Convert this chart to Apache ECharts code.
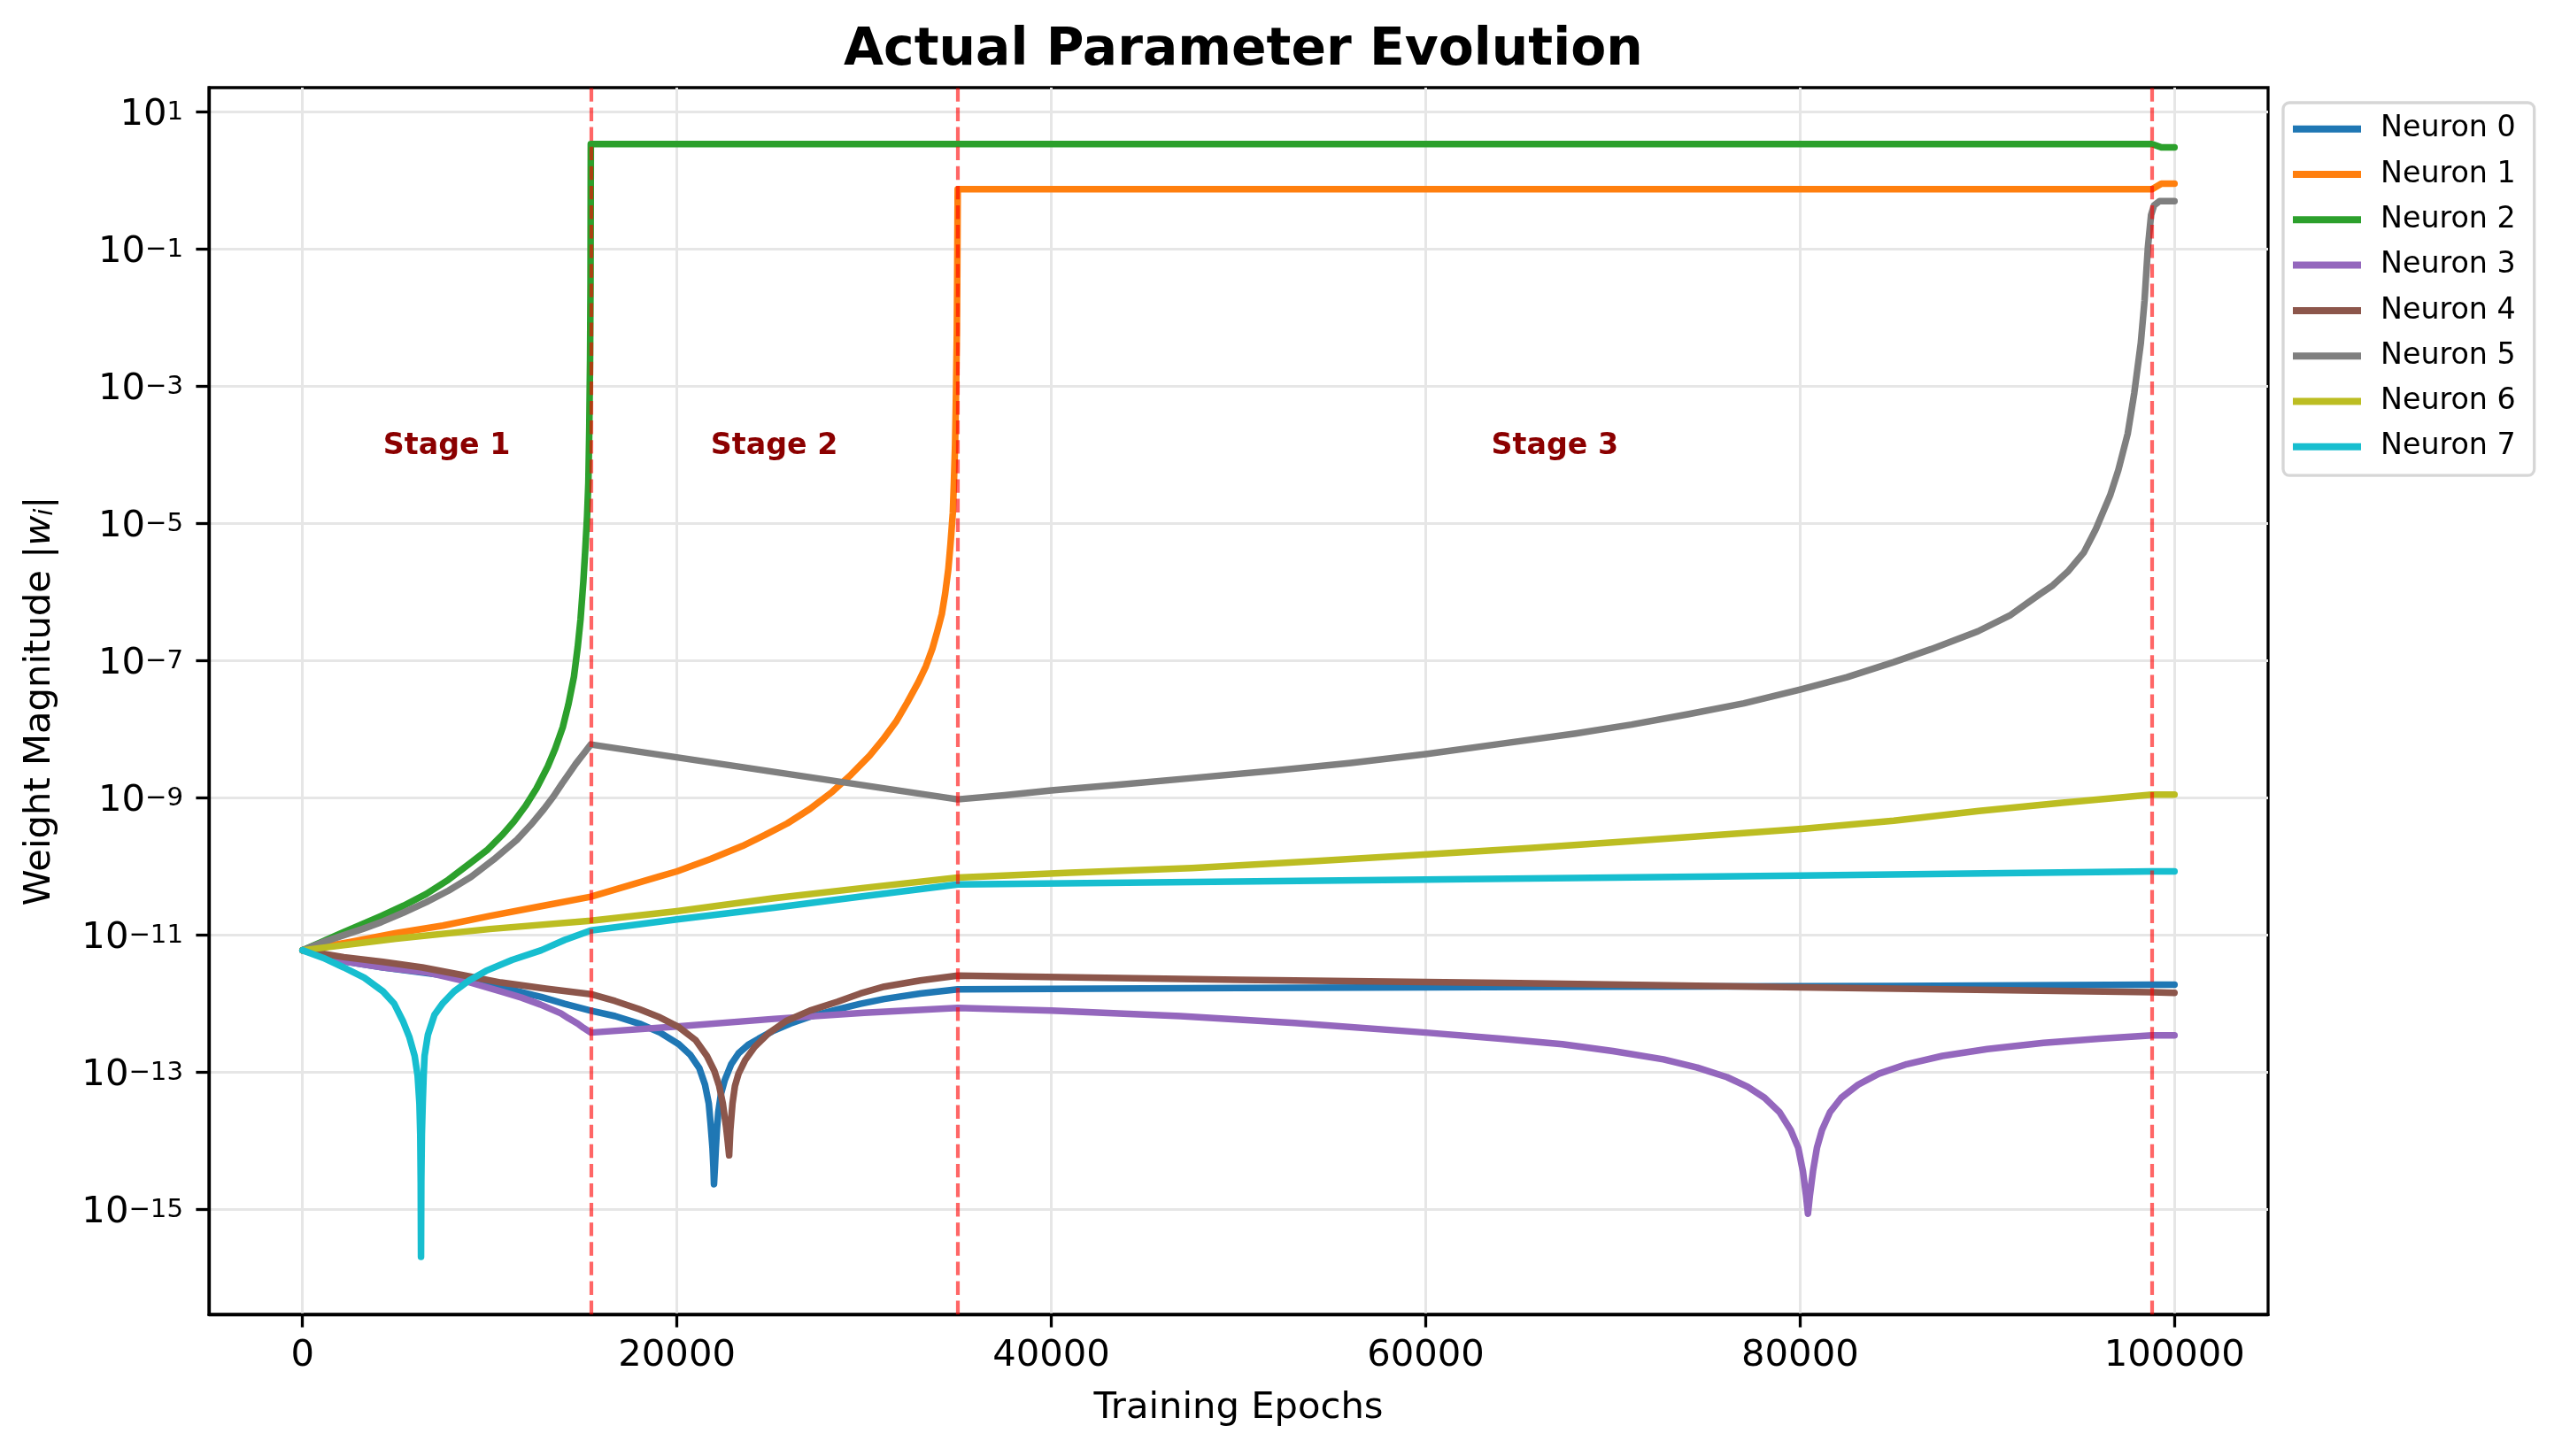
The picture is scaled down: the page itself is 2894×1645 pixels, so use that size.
<!DOCTYPE html>
<html>
<head>
<meta charset="utf-8">
<title>Actual Parameter Evolution</title>
<script src="https://cdn.jsdelivr.net/npm/echarts@6/dist/echarts.min.js"></script>
<style>
  html, body { margin: 0; padding: 0; background: #fff; }
  #echartsShow { width: 2894px; height: 1645px; }
</style>
</head>
<body>
<div id="echartsShow"></div>
<script>
// [epoch, log10 |w|]
var neuron0 = [[0,-11.22],[2200,-11.38],[4300,-11.47],[6600,-11.55],[8900,-11.63],[10600,-11.76],[12750,-11.90],[14000,-12.00],[15400,-12.10],
  [16700,-12.18],[18000,-12.29],[19100,-12.42],[20100,-12.59],[20700,-12.74],[21200,-12.94],[21500,-13.18],[21700,-13.45],[21800,-13.75],
  [21900,-14.10],[21950,-14.38],[21980,-14.63],[22030,-14.38],[22080,-14.10],[22140,-13.82],[22210,-13.58],[22350,-13.32],[22560,-13.11],
  [22900,-12.88],[23300,-12.72],[23800,-12.60],[24360,-12.51],[25100,-12.40],[26050,-12.29],[27200,-12.18],[28580,-12.08],[29800,-12.00],
  [31080,-11.93],[33000,-11.85],[35000,-11.79],
  [50000,-11.77],[70000,-11.75],[85000,-11.74],[98800,-11.72],[100000,-11.72]];
var neuron1 = [[0,-11.22],[2500,-11.10],[5000,-10.97],[7500,-10.86],[10000,-10.72],[12700,-10.58],[15400,-10.44],[17000,-10.31],[18000,-10.23],
  [19000,-10.15],[20000,-10.07],[21800,-9.89],[23500,-9.70],[24700,-9.54],[25900,-9.37],[27100,-9.16],[28300,-8.91],[29300,-8.66],
  [30300,-8.38],[31000,-8.15],[31700,-7.89],[32300,-7.61],[32900,-7.31],[33300,-7.08],[33650,-6.82],[33900,-6.58],[34150,-6.32],
  [34330,-6.02],[34500,-5.66],[34620,-5.28],[34740,-4.84],[34800,-4.38],[34860,-3.85],[34910,-3.10],[34955,-2.21],[34975,-1.40],
  [35000,-0.125],[98800,-0.125],[99300,-0.043],[100000,-0.043]];
var neuron2 = [[0,-11.22],[1000,-11.10],[2000,-10.98],[3100,-10.85],[4200,-10.72],[5400,-10.57],[6600,-10.40],[7800,-10.19],[9000,-9.94],
  [9900,-9.75],[10700,-9.53],[11300,-9.34],[11900,-9.12],[12500,-8.86],[13100,-8.54],[13500,-8.28],[13900,-7.97],[14200,-7.64],
  [14500,-7.23],[14700,-6.80],[14850,-6.40],[15000,-5.85],[15100,-5.40],[15200,-4.90],[15270,-4.40],[15320,-3.60],[15360,-2.60],
  [15385,-1.50],[15400,0.534],[98800,0.534],[99300,0.484],[100000,0.484]];
var neuron3 = [[0,-11.22],[2200,-11.38],[4300,-11.47],[6600,-11.54],[8700,-11.67],[10600,-11.82],[11700,-11.91],[12700,-12.01],[13800,-12.14],
  [14200,-12.21],[14700,-12.29],[15000,-12.35],[15400,-12.42],
  [20000,-12.33],[25200,-12.22],[30000,-12.13],[35000,-12.06],
  [40000,-12.10],[46900,-12.18],[53000,-12.28],[60000,-12.42],[64000,-12.51],[67300,-12.59],[70000,-12.69],[72700,-12.81],[74500,-12.93],
  [76100,-13.07],[77200,-13.21],[78100,-13.37],[78900,-13.58],[79500,-13.84],[79900,-14.10],[80150,-14.44],[80320,-14.80],[80420,-15.06],
  [80520,-14.80],[80690,-14.44],[80900,-14.10],[81170,-13.84],[81600,-13.58],[82200,-13.37],[83100,-13.18],[84200,-13.02],[85700,-12.88],
  [87600,-12.76],[90000,-12.66],[93000,-12.57],[96000,-12.51],[98800,-12.46],[100000,-12.46]];
var neuron4 = [[0,-11.22],[2200,-11.32],[4300,-11.39],[6400,-11.47],[8500,-11.58],[10600,-11.69],[13000,-11.78],[15400,-11.86],
  [16700,-11.96],[18000,-12.08],[19100,-12.20],[20100,-12.34],[21000,-12.53],[21600,-12.76],[22000,-12.98],[22250,-13.19],[22450,-13.45],
  [22630,-13.80],[22720,-14.02],[22790,-14.21],[22850,-13.85],[22970,-13.45],[23100,-13.20],[23290,-13.02],[23650,-12.82],[24150,-12.63],
  [24900,-12.43],[25840,-12.25],[27100,-12.10],[28580,-11.97],[29800,-11.85],[31080,-11.75],[33000,-11.66],[35000,-11.59],
  [50000,-11.65],[65000,-11.70],[80000,-11.76],[98800,-11.83],[100000,-11.84]];
var neuron5 = [[0,-11.22],[1000,-11.11],[2200,-11.00],[3200,-10.91],[4200,-10.81],[5400,-10.67],[6600,-10.52],[7800,-10.35],[9000,-10.15],
  [10200,-9.90],[11450,-9.61],[12200,-9.39],[12900,-9.16],[13400,-8.98],[13860,-8.79],[14250,-8.64],[14600,-8.50],[15000,-8.36],[15400,-8.22],
  [25200,-8.62],[35000,-9.02],
  [37500,-8.96],[40000,-8.89],[43500,-8.81],[47500,-8.71],[52000,-8.60],[56000,-8.49],[60000,-8.36],[64000,-8.21],[68000,-8.06],
  [71000,-7.93],[74000,-7.78],[77000,-7.62],[80000,-7.42],[82500,-7.24],[85000,-7.02],[87000,-6.83],[89500,-6.57],[91200,-6.34],
  [92800,-6.03],[93500,-5.90],[94300,-5.70],[95160,-5.42],[95800,-5.08],[96560,-4.59],[97000,-4.22],[97500,-3.69],[97850,-3.10],
  [98200,-2.37],[98400,-1.75],[98580,-0.97],[98750,-0.50],[98910,-0.36],[99200,-0.30],[100000,-0.30]];
var neuron6 = [[0,-11.22],[5000,-11.05],[10000,-10.91],[15400,-10.79],[20000,-10.65],[25200,-10.46],[30000,-10.31],[35000,-10.16],
  [41000,-10.09],[47500,-10.02],[54000,-9.92],[60100,-9.82],[65500,-9.73],[70850,-9.63],[75500,-9.54],[80100,-9.45],[85000,-9.33],
  [89550,-9.19],[94000,-9.07],[98800,-8.95],[100000,-8.95]];
var neuron7 = [[0,-11.22],[1100,-11.33],[2200,-11.47],[3300,-11.62],[4300,-11.82],[4900,-12.00],[5360,-12.25],[5700,-12.48],[5990,-12.76],
  [6150,-13.05],[6245,-13.45],[6290,-13.90],[6315,-14.60],[6330,-15.69],[6345,-14.60],[6375,-13.90],[6420,-13.45],[6470,-13.05],
  [6520,-12.76],[6700,-12.45],[7050,-12.16],[7500,-11.99],[8100,-11.82],[8900,-11.66],[9800,-11.52],[11200,-11.36],[12750,-11.22],
  [14000,-11.07],[15400,-10.93],
  [20000,-10.77],[25200,-10.60],[30000,-10.43],[35000,-10.26],
  [60000,-10.19],[80000,-10.13],[98800,-10.07],[100000,-10.07]];

var neuronNames = ['Neuron 0','Neuron 1','Neuron 2','Neuron 3','Neuron 4','Neuron 5','Neuron 6','Neuron 7'];
var neuronColors = ['#1f77b4','#ff7f0e','#2ca02c','#9467bd','#8c564b','#7f7f7f','#bcbd22','#17becf'];
var stageBounds = [15400, 35000, 98800];
var stageNames = ['Stage 1','Stage 2','Stage 3'];
var stageLabelExp = -3.88;
var xTicks = [0, 20000, 40000, 60000, 80000, 100000];
var yTickExps = [1, -1, -3, -5, -7, -9, -11, -13, -15];

var FONT = 'DejaVu Sans';
var allNeurons = [neuron0, neuron1, neuron2, neuron3, neuron4, neuron5, neuron6, neuron7];

function toPoints(arr) {
  return arr.map(function (p) { return [p[0], Math.pow(10, p[1])]; });
}

var series = [];
for (var i = 0; i < allNeurons.length; i++) {
  series.push({
    name: neuronNames[i],
    type: 'line',
    data: toPoints(allNeurons[i]),
    symbol: 'none',
    showSymbol: false,
    clip: true,
    color: neuronColors[i],
    lineStyle: { width: 7.5, color: neuronColors[i], cap: 'round', join: 'round' }
  });
}

// stage labels + red dashed boundaries
var stageData = [];
for (var s = 0; s < stageNames.length; s++) {
  var from = s === 0 ? 0 : stageBounds[s - 1];
  stageData.push([(from + stageBounds[s]) / 2, Math.pow(10, stageLabelExp), stageNames[s]]);
}
series.push({
  name: 'stages',
  type: 'scatter',
  data: stageData,
  symbolSize: 1,
  itemStyle: { color: 'rgba(0,0,0,0)', opacity: 1 },
  silent: true,
  z: 5,
  label: {
    show: true,
    position: 'inside',
    formatter: function (p) { return p.value[2]; },
    fontFamily: FONT,
    fontSize: 33.3,
    fontWeight: 'bold',
    color: '#8b0000',
    opacity: 1
  },
  markLine: {
    silent: true,
    symbol: ['none', 'none'],
    label: { show: false },
    lineStyle: { color: 'rgba(255,0,0,0.6)', width: 4.2, type: [15.4, 6.7] },
    data: stageBounds.map(function (b) { return { xAxis: b }; })
  }
});

var yTickValues = yTickExps.map(function (e) { return Math.pow(10, e); });

var echartsShow = echarts.init(document.getElementById('echartsShow'));
var option = {
  animation: false,
  backgroundColor: '#fff',
  textStyle: { fontFamily: FONT, color: '#000' },
  title: {
    text: 'Actual Parameter Evolution',
    left: 948,
    top: 23,
    textStyle: { fontFamily: FONT, fontSize: 58.3, fontWeight: 'bold', color: '#000', lineHeight: 60 }
  },
  legend: {
    data: neuronNames,
    orient: 'vertical',
    left: 2579,
    top: 116,
    padding: [12.7, 21, 15.3, 11],
    icon: 'rect',
    itemWidth: 77,
    itemHeight: 8,
    itemGap: 17.3,
    backgroundColor: '#fff',
    borderColor: '#d6d6d6',
    borderWidth: 3.3,
    borderRadius: 7,
    textStyle: { fontFamily: FONT, fontSize: 33.3, color: '#000', lineHeight: 34, padding: [0, 0, 0, 17] }
  },
  grid: {
    left: 236,
    right: 332,
    top: 99,
    bottom: 160,
    show: true,
    borderColor: '#000',
    borderWidth: 3.3,
    containLabel: false
  },
  xAxis: {
    type: 'value',
    min: -5000,
    max: 105000,
    name: 'Training Epochs',
    nameLocation: 'middle',
    nameGap: 85,
    nameTextStyle: { fontFamily: FONT, fontSize: 41.7, color: '#000' },
    axisLine: { show: true, onZero: false, lineStyle: { color: '#000', width: 3.3 } },
    axisTick: { show: true, length: 14.6, lineStyle: { color: '#000', width: 3.3 }, customValues: xTicks },
    axisLabel: {
      fontFamily: FONT, fontSize: 41.7, color: '#000', margin: 26, customValues: xTicks,
      formatter: function (v) { return String(v); }
    },
    splitLine: { show: true, lineStyle: { color: '#e6e6e6', width: 3 } }
  },
  yAxis: {
    type: 'log',
    logBase: 10,
    min: Math.pow(10, -16.528),
    max: Math.pow(10, 1.356),
    name: 'Weight Magnitude |{w|w}{i|i}|',
    nameLocation: 'middle',
    nameRotate: 90,
    nameGap: 170,
    nameTextStyle: {
      fontFamily: FONT, fontSize: 41.7, color: '#000',
      rich: {
        w: { fontFamily: FONT, fontSize: 41.7, fontStyle: 'italic', color: '#000' },
        i: { fontFamily: FONT, fontSize: 29, fontStyle: 'italic', color: '#000', verticalAlign: 'bottom', lineHeight: 40 }
      }
    },
    axisLine: { show: true, onZero: false, lineStyle: { color: '#000', width: 3.3 } },
    axisTick: { show: true, length: 14.6, lineStyle: { color: '#000', width: 3.3 }, customValues: yTickValues },
    axisLabel: {
      customValues: yTickValues,
      margin: 29,
      formatter: function (v) {
        var e = Math.round(Math.log(v) / Math.LN10);
        return '{b|10}{s|' + (e < 0 ? '\u2212' + (-e) : e) + '}';
      },
      rich: {
        b: { fontFamily: FONT, fontSize: 41.7, color: '#000', lineHeight: 42, padding: [7, 0, 0, 0] },
        s: { fontFamily: FONT, fontSize: 29.2, color: '#000', lineHeight: 20, verticalAlign: 'top', padding: [7, 0, 0, 0] }
      }
    },
    splitLine: { show: true, lineStyle: { color: '#e6e6e6', width: 3 } }
  },
  series: series
};
echartsShow.setOption(option);
</script>
</body>
</html>
